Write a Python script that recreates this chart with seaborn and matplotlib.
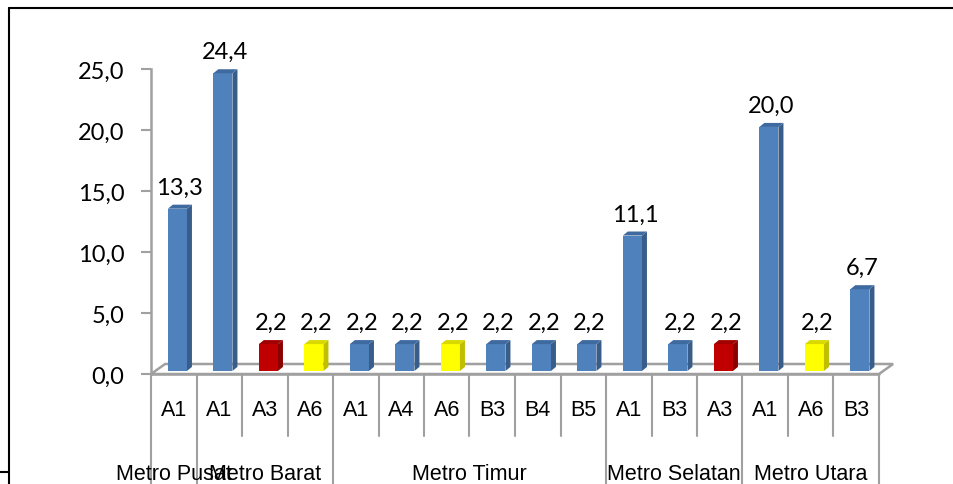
import matplotlib
matplotlib.use("Agg")
import matplotlib.pyplot as plt
import seaborn as sns
import pandas as pd
from matplotlib.patches import Polygon
from matplotlib.lines import Line2D
from matplotlib.ticker import FuncFormatter
import matplotlib.transforms as mtransforms

# data
codes = ["A1", "A1", "A3", "A6", "A1", "A4", "A6", "B3", "B4", "B5",
         "A1", "B3", "A3", "A1", "A6", "B3"]
values = [13.3, 24.4, 2.2, 2.2, 2.2, 2.2, 2.2, 2.2, 2.2, 2.2,
          11.1, 2.2, 2.2, 20.0, 2.2, 6.7]
status = ["biru", "biru", "merah", "kuning", "biru", "biru", "kuning", "biru",
          "biru", "biru", "biru", "biru", "merah", "biru", "kuning", "biru"]
regions = ["Metro Pusat", "Metro Barat", "Metro Timur", "Metro Selatan", "Metro Utara"]
region_sizes = [1, 3, 6, 3, 3]

palette = {"biru": "#4F81BD", "merah": "#C00000", "kuning": "#FFFF00"}
side_colors = {"biru": "#385D8A", "merah": "#8B0000", "kuning": "#BFBF00"}
top_colors = {"biru": "#3E6AA0", "merah": "#A00000", "kuning": "#D9D900"}

df = pd.DataFrame({"pos": range(len(values)), "kode": codes,
                   "nilai": values, "status": status})

sns.set_style("white")
plt.rcParams["font.family"] = ["Lato", "DejaVu Sans"]

fig = plt.figure(figsize=(9.54, 4.85), dpi=100)
ax = fig.add_axes([151 / 954, 1 - 375 / 485, (879 - 151) / 954, (375 - 70) / 485])

sns.barplot(data=df, x="pos", y="nilai", hue="status", palette=palette,
            dodge=False, legend=False, width=0.42, ax=ax, saturation=1)

ax.set_xlim(-0.5, len(values) - 0.5)
ax.set_ylim(0, 25)

# 3d look
dx, dy = 0.11, 0.33          # bar depth
shift_x, lift = 0.08, 0.25
grey = "#A0A0A0"
inv = {v: k for k, v in palette.items()}
for p in list(ax.patches):
    h = p.get_height()
    if h <= 0:
        continue
    fc = matplotlib.colors.to_hex(p.get_facecolor())
    key = inv.get(fc.upper(), inv.get(fc, "biru"))
    p.set_x(p.get_x() + shift_x)
    p.set_y(lift)
    p.set_edgecolor("none")
    p.set_zorder(3)
    x0 = p.get_x()
    x1 = x0 + p.get_width()
    y0, y1 = lift, lift + h
    ax.add_patch(Polygon([(x1, y0), (x1 + dx, y0 + dy), (x1 + dx, y1 + dy), (x1, y1)],
                         closed=True, facecolor=side_colors[key], edgecolor="none",
                         clip_on=False, zorder=3))
    ax.add_patch(Polygon([(x0, y1), (x0 + dx, y1 + dy), (x1 + dx, y1 + dy), (x1, y1)],
                         closed=True, facecolor=top_colors[key], edgecolor="none",
                         clip_on=False, zorder=3))
    ax.annotate(f"{h:.1f}".replace(".", ","), ((x0 + x1 + dx) / 2, y1 + dy),
                xytext=(0, 5), textcoords="offset points", ha="center", va="bottom",
                fontsize=17, color="black", annotation_clip=False)

# floor
fx, fy = 0.31, 0.82
n = len(values)
floor = [(-0.5, 0), (-0.5 + fx, fy), (n - 0.5 + fx, fy), (n - 0.5, 0)]
ax.add_patch(Polygon(floor, closed=True, facecolor="white", edgecolor=grey,
                     linewidth=1.8, clip_on=False, zorder=1))

# y axis
for s in ["top", "right", "bottom"]:
    ax.spines[s].set_visible(False)
ax.spines["left"].set_color(grey)
ax.spines["left"].set_linewidth(1.8)
ax.set_yticks([0, 5, 10, 15, 20, 25])
ax.yaxis.set_major_formatter(FuncFormatter(lambda v, _: f"{v:.1f}".replace(".", ",")))
ax.tick_params(axis="y", left=True, length=7, width=1.5, color=grey,
               labelsize=17, pad=12, labelcolor="black")
ax.set_xticks([])
ax.set_xlabel("")
ax.set_ylabel("")

# multi-level category axis
trans = mtransforms.blended_transform_factory(ax.transData, ax.transAxes)
px = 1 / (375 - 70)
ax.plot([-0.5, n - 0.5], [0, 0], color=grey, lw=1.8, transform=trans, clip_on=False, zorder=2)
for i, c in enumerate(codes):
    ax.text(i, -36 * px, c, transform=trans, ha="center", va="center",
            fontsize=15.5, family="Liberation Sans", color="black")
bounds = [0]
for s in region_sizes:
    bounds.append(bounds[-1] + s)
for b in range(n + 1):
    long_line = b in bounds
    y_end = -110 * px if long_line else -62 * px
    ax.plot([b - 0.5, b - 0.5], [0, y_end], color=grey, lw=1.5,
            transform=trans, clip_on=False, zorder=2)
for r, a, b in zip(regions, bounds[:-1], bounds[1:]):
    ax.text((a + b - 1) / 2, -99 * px, r, transform=trans, ha="center", va="center",
            fontsize=15.5, family="Liberation Sans", color="black")

# outer frame
fig.add_artist(Line2D([9 / 954, 1], [1 - 9 / 485, 1 - 9 / 485], color="black", lw=1.5))
fig.add_artist(Line2D([9 / 954, 9 / 954], [0, 1 - 9 / 485], color="black", lw=1.5))
fig.add_artist(Line2D([0, 9 / 954], [12 / 485, 12 / 485], color="black", lw=1.5))

fig.savefig("out.png", dpi=100)
